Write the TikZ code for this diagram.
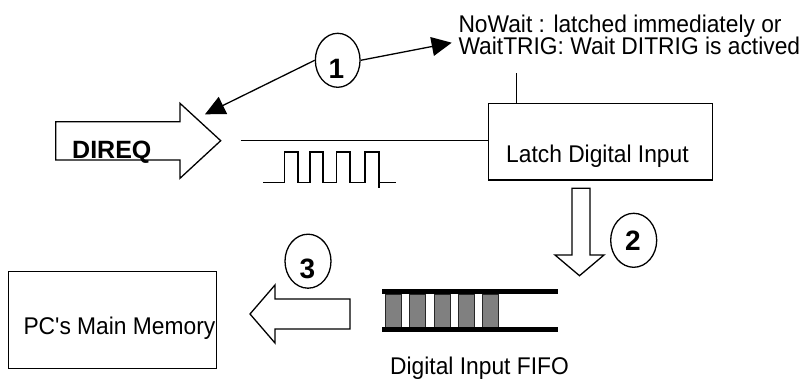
\documentclass[tikz,border=0pt]{standalone}
\usepackage{fontspec}
\setmainfont{Liberation Sans}
\newfontfamily\plainsf{Liberation Sans}[Ligatures=TeXOff]
\usetikzlibrary{arrows.meta,shapes.geometric}
\definecolor{fifogray}{HTML}{808080}
\begin{document}
\begin{tikzpicture}[x=1pt,y=-1pt,line join=miter,
  ln/.style={line width=1.3pt},
  boxnode/.style={draw,line width=1.3pt,inner sep=0pt,rectangle},
  txt/.style={inner sep=0pt,anchor=base west,yscale=1.06,transform shape,
    font=\plainsf\fontsize{22.8}{27}\selectfont},
  numell/.style={draw,ellipse,line width=1.3pt,inner sep=0pt,minimum height=54pt},
  numtxt/.style={inner sep=0pt,font=\fontsize{28}{30}\selectfont\bfseries},
  blockarrow/.style={draw,line width=1.3pt,fill=white},
  tipline/.style={line width=1.3pt,-{Triangle[length=20pt,width=19pt]}},
  cell/.style={draw=black!85,line width=0.6pt,fill=fifogray}
]
\useasboundingbox (0,0) rectangle (807,379);

% boxes
\node[boxnode,minimum width=224.4pt,minimum height=76.7pt] (latch) at (600.5,141.7) {};
\node[txt] (latchtxt) at (506,163) {Latch Digital Input};
\node[boxnode,minimum width=208.4pt,minimum height=96.6pt] (pcmem) at (112.5,320) {};
\node[txt] (pctxt) at (23.3,335) {PC's Main Memory};

% note text
\node[txt] (note1) at (458.3,32.3) {NoWait : latched immediately or};
\node[txt] (note2) at (458.3,55) {WaitTRIG: Wait DITRIG is actived};

% numbered ellipses
\node[numell,minimum width=44.7pt] (e1) at (337.7,60.3) {};
\node[numtxt] (n1) at (336.5,69.2) {1};
\node[numell,minimum width=46pt] (e2) at (633.7,240.3) {};
\node[numtxt] (n2) at (632.8,240.8) {2};
\node[numell,minimum width=46pt] (e3) at (308,261.2) {};
\node[numtxt] (n3) at (307.5,269) {3};

% arrows from ellipse 1
\coordinate (notetip) at (451.7,42.7);
\coordinate (dtip) at (205,114.3);
\draw[tipline] (e1.east) -- (notetip);
\draw[tipline] (e1.west) -- (dtip);

% DIREQ block arrow
\draw[blockarrow] (55.7,121.7) -- (180,121.7) -- (180,103.3) -- (220.7,140.7)
  -- (180,178.3) -- (180,160) -- (55.7,160) -- cycle;
\node[inner sep=0pt,anchor=base west,font=\fontsize{25}{28}\selectfont\bfseries] (direq) at (72,158.3) {DIREQ};

% signal line to latch
\coordinate (sigstart) at (240.7,140.7);
\draw[ln] (sigstart) -- (sigstart -| latch.west);
% trigger line above latch
\draw[ln] (latch.north west) ++(29,0) -- ++(0,-29.3);

% pulse train
\draw[ln] (263.3,182.5) -- (284.5,182.5) -- (284.5,152) -- (298,152) -- (298,182.5)
  -- (310,182.5) -- (310,152) -- (323,152) -- (323,182.5) -- (336.5,182.5)
  -- (336.5,152) -- (350,152) -- (350,182.5) -- (365,182.5) -- (365,152)
  -- (379,152) -- (379,188.3);
\draw[ln] (379,182.5) -- (395.5,182.5);

% down arrow (2)
\draw[blockarrow] (572,188.3) -- (590,188.3) -- (590,255) -- (604,255)
  -- (579.5,275.7) -- (555,255) -- (572,255) -- cycle;

% left arrow (3)
\draw[blockarrow] (350,299) -- (275,299) -- (275,285) -- (250,314)
  -- (275,343) -- (275,329) -- (350,329) -- cycle;

% FIFO
\foreach \i in {0,...,4}
  \draw[cell] ({385+24.4*\i},294) rectangle ++(16,33);
\draw[line width=4.5pt] (382.3,291.7) -- (558.3,291.7);
\draw[line width=4.5pt] (382.3,329.3) -- (558.3,329.3);
\node[txt] (fifotxt) at (390,375) {Digital Input FIFO};
\end{tikzpicture}
\end{document}
